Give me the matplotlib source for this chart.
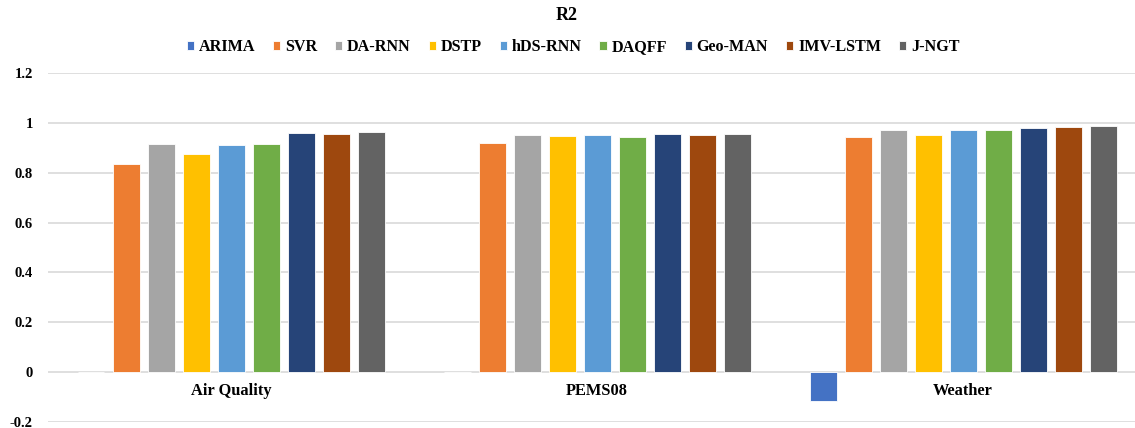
import matplotlib
matplotlib.use("Agg")
import matplotlib.pyplot as plt
import numpy as np

datasets = ["Air Quality", "PEMS08", "Weather"]
models = ["ARIMA", "SVR", "DA-RNN", "DSTP", "hDS-RNN", "DAQFF", "Geo-MAN", "IMV-LSTM", "J-NGT"]

arima = [0.0, 0.0, -0.118]
svr = [0.837, 0.920, 0.943]
da_rnn = [0.914, 0.951, 0.971]
dstp = [0.876, 0.948, 0.951]
hds_rnn = [0.911, 0.951, 0.973]
daqff = [0.914, 0.945, 0.971]
geo_man = [0.961, 0.956, 0.981]
imv_lstm = [0.957, 0.953, 0.984]
j_ngt = [0.965, 0.957, 0.987]

series = [arima, svr, da_rnn, dstp, hds_rnn, daqff, geo_man, imv_lstm, j_ngt]
colors = ["#4472C4", "#ED7D31", "#A5A5A5", "#FFC000", "#5B9BD5",
          "#70AD47", "#264478", "#9E480E", "#636363"]

yticks = [-0.2, 0, 0.2, 0.4, 0.6, 0.8, 1, 1.2]
ytick_labels = ["-0.2", "0", "0.2", "0.4", "0.6", "0.8", "1", "1.2"]

plt.rcParams["font.family"] = ["Liberation Serif", "DejaVu Serif"]
plt.rcParams["font.weight"] = "bold"

W, H = 1135, 428
fig = plt.figure(figsize=(W / 100, H / 100), dpi=100)
ax = fig.add_axes([48 / W, (H - 421.7) / H, 1 - 48 / W, (421.7 - 73.3) / H])

pitch = 35 / 366
width = 27 / 366
x = np.arange(len(datasets))
handles = []
for i, (vals, c, name) in enumerate(zip(series, colors, models)):
    b = ax.bar(x + (i - 4) * pitch, vals, width=width, color=c,
               edgecolor="white", linewidth=0.6, label=name, zorder=3)
    handles.append(b)

ax.set_ylim(-0.2, 1.2)
ax.set_xlim(-0.5, -0.5 + (W - 48) / 366)
ax.set_yticks(yticks)
ax.set_yticklabels(ytick_labels, fontsize=10.5, fontweight="bold")
ax.tick_params(axis="y", length=0, pad=11)
ax.set_xticks([])
for s in ax.spines.values():
    s.set_visible(False)
ax.grid(axis="y", color="#D9D9D9", linewidth=1.2, zorder=0)
ax.set_axisbelow(True)

for xi, name in zip(x, datasets):
    ax.text(xi, -0.075, name, ha="center", va="center",
            fontsize=11.8, fontweight="bold")

fig.text(567 / W, 1 - 15 / H, "R2", ha="center", va="center",
         fontsize=13, fontweight="bold")

fig.legend(handles=handles, labels=models, loc="center",
           bbox_to_anchor=(573 / W, 1 - 47 / H), ncol=9, frameon=False,
           handlelength=0.45, handleheight=0.45,
           handletextpad=0.3, columnspacing=1.1,
           prop={"weight": "bold", "size": 11.6})

fig.savefig("out.png", dpi=100)
